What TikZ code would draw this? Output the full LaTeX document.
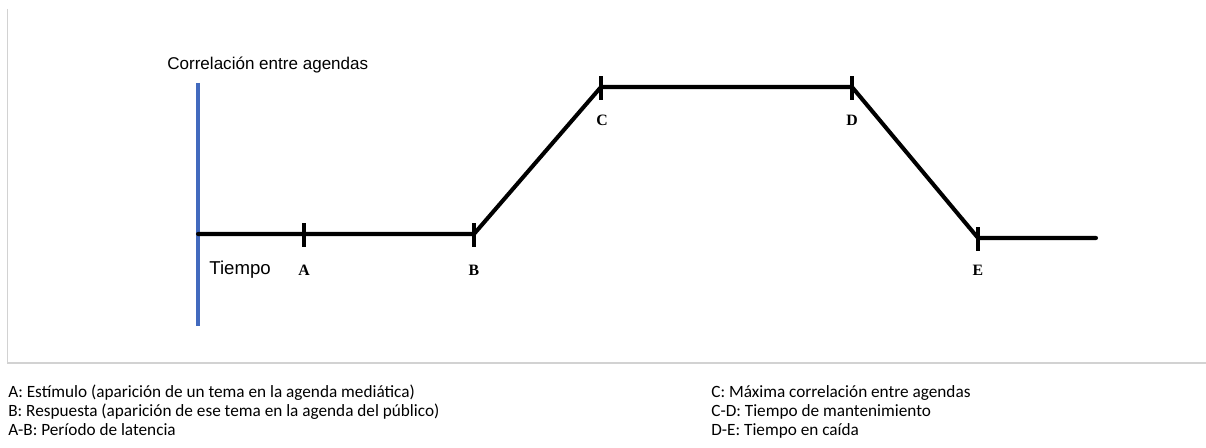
\documentclass[tikz,border=0pt]{standalone}
\usepackage{fontspec}
\usepackage{tkz-euclide}
\setmainfont{Carlito}
\newfontfamily\arialfont{Liberation Sans}
\newfontfamily\timesfont{Liberation Serif}
\definecolor{axisblue}{RGB}{66,106,190}
\tikzset{
  curve/.style={line width=2.3pt},
  tickmark/.style={line width=2.3pt},
  ptlabel/.style={font=\timesfont\bfseries\fontsize{9}{10}\selectfont, inner sep=0pt, anchor=base},
  axislabel/.style={font=\arialfont\fontsize{9.7}{11}\selectfont, inner sep=0pt, anchor=base west},
  note/.style={font=\fontsize{9.8}{11}\selectfont, inner sep=0pt, anchor=base west}
}

\begin{document}
\begin{tikzpicture}
\useasboundingbox (0,0) rectangle (24.12,8.96);
\tkzDefPoints{3.96/4.28/O, 6.08/4.28/A, 9.48/4.28/B, 12.02/7.22/C, 17.04/7.22/D, 19.56/4.2/E, 21.92/4.2/F}
\tkzDefPoints{3.96/7.3/Y, 3.96/2.44/Y0}
% frame
\draw[gray!35, line width=0.8pt] (0.15,8.78) -- (0.15,1.7) -- (24.12,1.7);
% axis and curve
\draw[axisblue, line width=2.3pt] (Y) -- (Y0);
\tkzDrawPolySeg[curve](O,A,B,C,D,E,F)
\foreach \p in {A,B,C,D,E}
  \draw[tickmark] ([yshift=-0.26cm]\p) -- ([yshift=0.22cm]\p);
\node[axislabel] (title) at (3.34,7.57) {Correlación entre agendas};
\node[axislabel, font=\arialfont\fontsize{10.6}{12}\selectfont] (time) at (4.18,3.46) {Tiempo};
\node[ptlabel] (lA) at (6.08,3.44) {A};
\node[ptlabel] (lB) at (9.48,3.44) {B};
\node[ptlabel] (lC) at (12.04,6.44) {C};
\node[ptlabel] (lD) at (17.04,6.44) {D};
\node[ptlabel] (lE) at (19.56,3.44) {E};
% notes
\node[note] (nA) at (0.16,1.01) {A: Estímulo (aparición de un tema en la agenda mediática)};
\node[note] (nB) at ([yshift=-0.38cm]nA.base west) {B: Respuesta (aparición de ese tema en la agenda del público)};
\node[note] (nAB) at ([yshift=-0.38cm]nB.base west) {A-B: Período de latencia};
\node[note] (nC) at (14.22,1.01) {C: Máxima correlación entre agendas};
\node[note] (nCD) at ([yshift=-0.38cm]nC.base west) {C-D: Tiempo de mantenimiento};
\node[note] (nDE) at ([yshift=-0.38cm]nCD.base west) {D-E: Tiempo en caída};
\end{tikzpicture}
\end{document}
